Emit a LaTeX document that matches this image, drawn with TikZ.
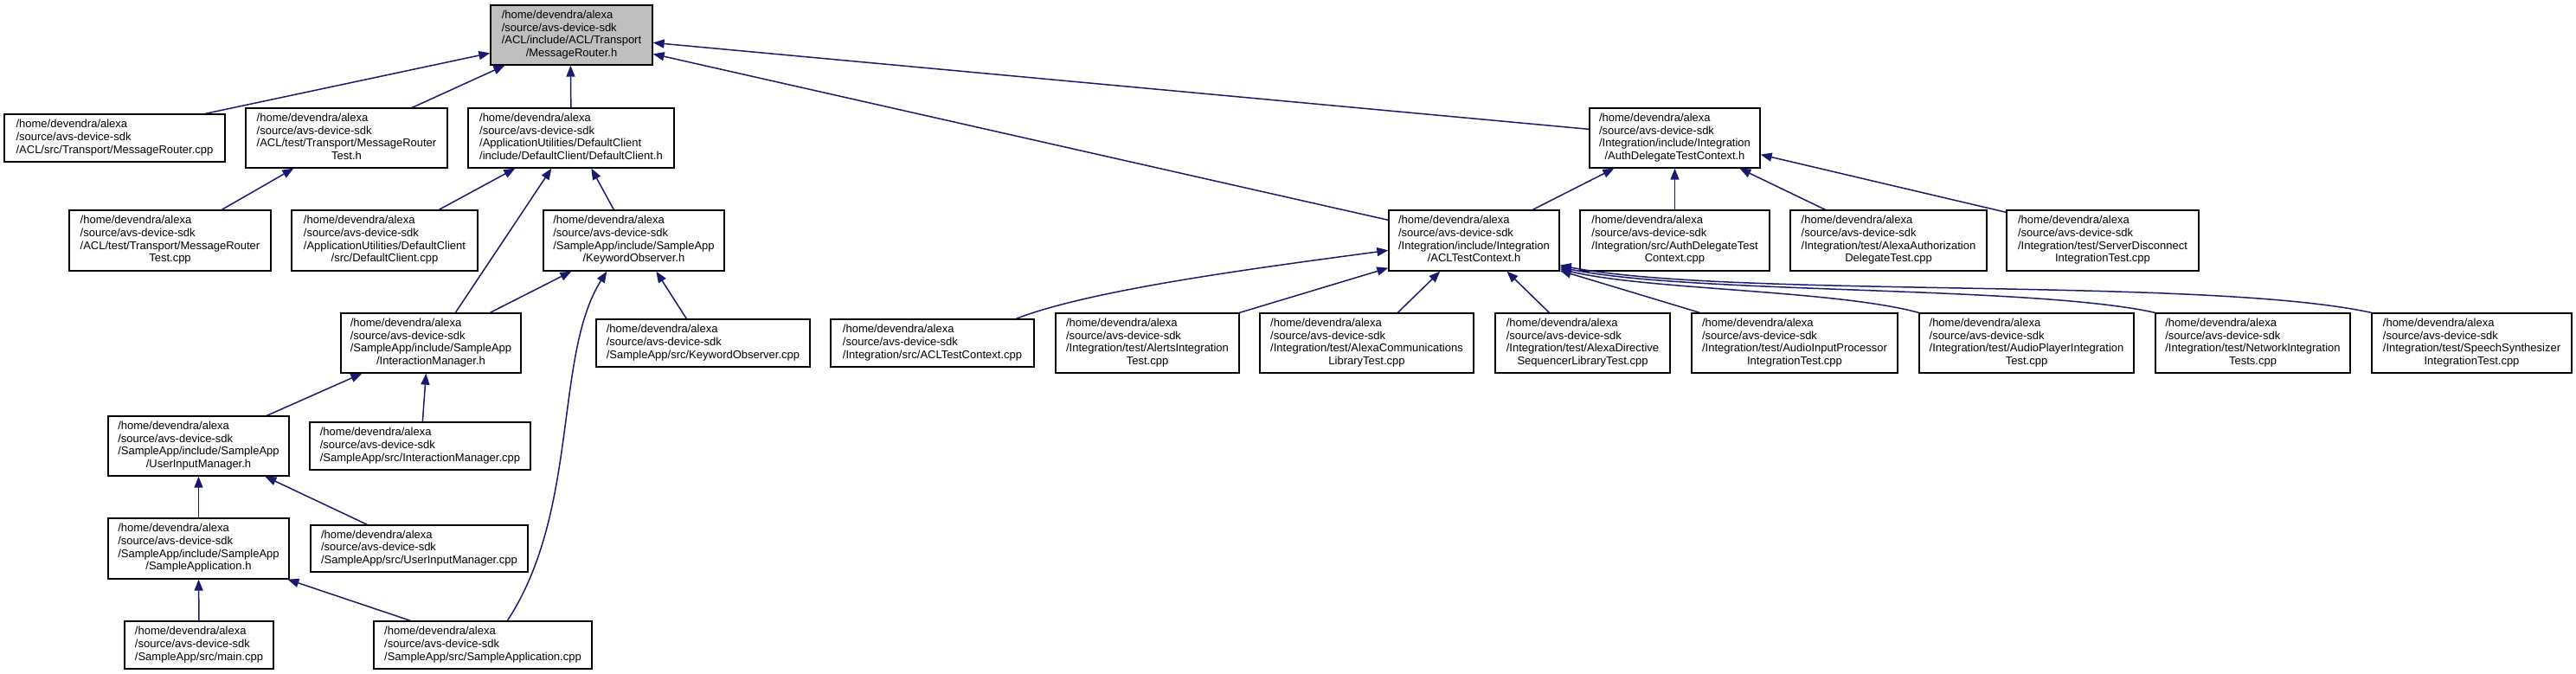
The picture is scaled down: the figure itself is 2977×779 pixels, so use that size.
\documentclass[tikz,border=0pt]{standalone}
\usepackage{fontspec}
\setmainfont{Liberation Sans}
\usetikzlibrary{arrows.meta,calc}
\definecolor{edgeblue}{RGB}{25,25,112}
\definecolor{rootgray}{RGB}{191,191,191}
\newcommand{\fourl}[4]{\begin{tabular}{@{}l@{}}#1\\#2\\#3\\\multicolumn{1}{@{}c@{}}{#4}\end{tabular}}
\newcommand{\threel}[3]{\begin{tabular}{@{}l@{}}#1\\#2\\#3\end{tabular}}
\newcommand{\hm}{/home/devendra/alexa}
\newcommand{\sr}{/source/avs-device-sdk}
\tikzset{
  box/.style={draw=black, line width=1.3pt, fill=white, inner sep=0pt, align=center,
    font=\fontsize{13}{14.7}\selectfont},
  root/.style={box, fill=rootgray},
  incl/.style={draw=edgeblue, line width=1.5pt, -{Triangle[length=13pt,width=10pt]}},
}
\begin{document}
\begin{tikzpicture}[x=1pt,y=-1pt]
\useasboundingbox (0,0) rectangle (2977,779);
% rank 0
\node[root, minimum width=187pt, minimum height=69pt] (MRh) at (660.5,40.5) {\fourl{\hm}{\sr}{/ACL/include/ACL/Transport}{/MessageRouter.h}};
% rank 1
\node[box, minimum width=255pt, minimum height=55pt] (MRcpp) at (132.5,159.5) {\threel{\hm}{\sr}{/ACL/src/Transport/MessageRouter.cpp}};
\node[box, minimum width=233pt, minimum height=69pt] (MRTh) at (400.5,159.5) {\fourl{\hm}{\sr}{/ACL/test/Transport/MessageRouter}{Test.h}};
\node[box, minimum width=238pt, minimum height=69pt] (DCh) at (660,159.5) {\fourl{\hm}{\sr}{/ApplicationUtilities/DefaultClient}{/include/DefaultClient/DefaultClient.h}};
\node[box, minimum width=197pt, minimum height=69pt] (ADTCh) at (1935.5,159.5) {\fourl{\hm}{\sr}{/Integration/include/Integration}{/AuthDelegateTestContext.h}};
% rank 2
\node[box, minimum width=233pt, minimum height=70pt] (MRTcpp) at (196.5,278) {\fourl{\hm}{\sr}{/ACL/test/Transport/MessageRouter}{Test.cpp}};
\node[box, minimum width=215pt, minimum height=70pt] (DCcpp) at (444.5,278) {\fourl{\hm}{\sr}{/ApplicationUtilities/DefaultClient}{/src/DefaultClient.cpp}};
\node[box, minimum width=209pt, minimum height=70pt] (KOh) at (732.5,278) {\fourl{\hm}{\sr}{/SampleApp/include/SampleApp}{/KeywordObserver.h}};
\node[box, minimum width=197pt, minimum height=70pt] (ACLh) at (1703.5,278) {\fourl{\hm}{\sr}{/Integration/include/Integration}{/ACLTestContext.h}};
\node[box, minimum width=219pt, minimum height=70pt] (ADTCcpp) at (1935.5,278) {\fourl{\hm}{\sr}{/Integration/src/AuthDelegateTest}{Context.cpp}};
\node[box, minimum width=227pt, minimum height=70pt] (AADcpp) at (2182.5,278) {\fourl{\hm}{\sr}{/Integration/test/AlexaAuthorization}{DelegateTest.cpp}};
\node[box, minimum width=222pt, minimum height=70pt] (SDIcpp) at (2430,278) {\fourl{\hm}{\sr}{/Integration/test/ServerDisconnect}{IntegrationTest.cpp}};
% rank 3
\node[box, minimum width=208pt, minimum height=69pt] (IMh) at (498,396.5) {\fourl{\hm}{\sr}{/SampleApp/include/SampleApp}{/InteractionManager.h}};
\node[box, minimum width=247pt, minimum height=55pt] (KOcpp) at (812.5,396.5) {\threel{\hm}{\sr}{/SampleApp/src/KeywordObserver.cpp}};
\node[box, minimum width=235pt, minimum height=55pt] (ACLcpp) at (1077.5,396.5) {\threel{\hm}{\sr}{/Integration/src/ACLTestContext.cpp}};
\node[box, minimum width=212pt, minimum height=69pt] (ALcpp) at (1326,396.5) {\fourl{\hm}{\sr}{/Integration/test/AlertsIntegration}{Test.cpp}};
\node[box, minimum width=247pt, minimum height=69pt] (ACcpp) at (1579.5,396.5) {\fourl{\hm}{\sr}{/Integration/test/AlexaCommunications}{LibraryTest.cpp}};
\node[box, minimum width=202pt, minimum height=69pt] (ADcpp) at (1829,396.5) {\fourl{\hm}{\sr}{/Integration/test/AlexaDirective}{SequencerLibraryTest.cpp}};
\node[box, minimum width=238pt, minimum height=69pt] (AIPcpp) at (2074,396.5) {\fourl{\hm}{\sr}{/Integration/test/AudioInputProcessor}{IntegrationTest.cpp}};
\node[box, minimum width=248pt, minimum height=69pt] (APcpp) at (2342,396.5) {\fourl{\hm}{\sr}{/Integration/test/AudioPlayerIntegration}{Test.cpp}};
\node[box, minimum width=225pt, minimum height=69pt] (NIcpp) at (2603.5,396.5) {\fourl{\hm}{\sr}{/Integration/test/NetworkIntegration}{Tests.cpp}};
\node[box, minimum width=231pt, minimum height=69pt] (SScpp) at (2856.5,396.5) {\fourl{\hm}{\sr}{/Integration/test/SpeechSynthesizer}{IntegrationTest.cpp}};
% rank 4
\node[box, minimum width=209pt, minimum height=69pt] (UIMh) at (229.5,515.5) {\fourl{\hm}{\sr}{/SampleApp/include/SampleApp}{/UserInputManager.h}};
\node[box, minimum width=255pt, minimum height=55pt] (IMcpp) at (485.5,515.5) {\threel{\hm}{\sr}{/SampleApp/src/InteractionManager.cpp}};
% rank 5
\node[box, minimum width=209pt, minimum height=70pt] (SAh) at (229.5,634) {\fourl{\hm}{\sr}{/SampleApp/include/SampleApp}{/SampleApplication.h}};
\node[box, minimum width=251pt, minimum height=54pt] (UIMcpp) at (484.5,634) {\threel{\hm}{\sr}{/SampleApp/src/UserInputManager.cpp}};
% rank 6
\node[box, minimum width=172pt, minimum height=55pt] (maincpp) at (230,745.5) {\threel{\hm}{\sr}{/SampleApp/src/main.cpp}};
\node[box, minimum width=252pt, minimum height=55pt] (SAcpp) at (558,745.5) {\threel{\hm}{\sr}{/SampleApp/src/SampleApplication.cpp}};

% edges (tail at includer, head at included header)
\draw[incl] ($(MRcpp.north west)+(233,0)$) -- ($(MRh.north west)+(0,56)$);
\draw[incl] ($(MRTh.north west)+(193,0)$) -- ($(MRh.south west)+(17,0)$);
\draw[incl] ($(DCh.north west)+(119.5,0)$) -- ($(MRh.south west)+(93,0)$);
\draw[incl] ($(ADTCh.north west)+(0,25)$) -- ($(MRh.north east)+(0,44)$);
\draw[incl] ($(ACLh.north west)+(0,12)$) -- ($(MRh.north east)+(0,57)$);
\draw[incl] ($(MRTcpp.north west)+(177,0)$) -- ($(MRTh.south west)+(56,0)$);
\draw[incl] ($(DCcpp.north west)+(171,0)$) -- ($(DCh.south west)+(55,0)$);
\draw[incl] ($(IMh.north west)+(133,0)$) -- ($(DCh.south west)+(97,0)$);
\draw[incl] ($(KOh.north west)+(82,0)$) -- ($(DCh.south west)+(143,0)$);
\draw[incl] ($(IMh.north west)+(173,0)$) -- ($(KOh.south west)+(33,0)$);
\draw[incl] ($(SAcpp.north west)+(155,0)$) .. controls (670,590) and (640,410) .. ($(KOh.south west)+(74,0)$);
\draw[incl] ($(KOcpp.north west)+(105,0)$) -- ($(KOh.south west)+(131,0)$);
\draw[incl] ($(UIMh.north west)+(184,0)$) -- ($(IMh.south west)+(25,0)$);
\draw[incl] ($(IMcpp.north west)+(131,0)$) -- ($(IMh.south west)+(99,0)$);
\draw[incl] (SAh.north) -- (UIMh.south);
\draw[incl] ($(UIMcpp.north west)+(66,0)$) -- ($(UIMh.south west)+(182,0)$);
\draw[incl] (maincpp.north) -- (SAh.south);
\draw[incl] ($(SAcpp.north west)+(43,0)$) -- ($(SAh.south west)+(208,0)$);
\draw[incl] ($(ACLh.north west)+(167,0)$) -- ($(ADTCh.south west)+(29,0)$);
\draw[incl] (ADTCcpp.north) -- (ADTCh.south);
\draw[incl] ($(AADcpp.north west)+(41,0)$) -- ($(ADTCh.south west)+(174,0)$);
\draw[incl] ($(SDIcpp.north west)+(0,3)$) -- ($(ADTCh.south east)+(0,-16)$);
\draw[incl] ($(ACLcpp.north west)+(215,0)$) .. controls (1260,335) and (1450,310) .. ($(ACLh.north west)+(0,47)$);
\draw[incl] (ALcpp.north east) -- ($(ACLh.south west)+(0,-4)$);
\draw[incl] ($(ACcpp.north west)+(160,0)$) -- ($(ACLh.south west)+(60,0)$);
\draw[incl] ($(ADcpp.north west)+(63,0)$) -- ($(ACLh.south west)+(137,0)$);
\draw[incl] ($(AIPcpp.north west)+(10,0)$) -- ($(ACLh.south east)+(0,-1)$);
\draw[incl] (APcpp.north west) .. controls (2120,335) and (1900,335) .. ($(ACLh.south east)+(0,-3)$);
\draw[incl] (NIcpp.north west) .. controls (2350,330) and (1950,340) .. ($(ACLh.south east)+(0,-5)$);
\draw[incl] (SScpp.north west) .. controls (2550,320) and (2000,345) .. ($(ACLh.south east)+(0,-7)$);
\end{tikzpicture}
\end{document}
